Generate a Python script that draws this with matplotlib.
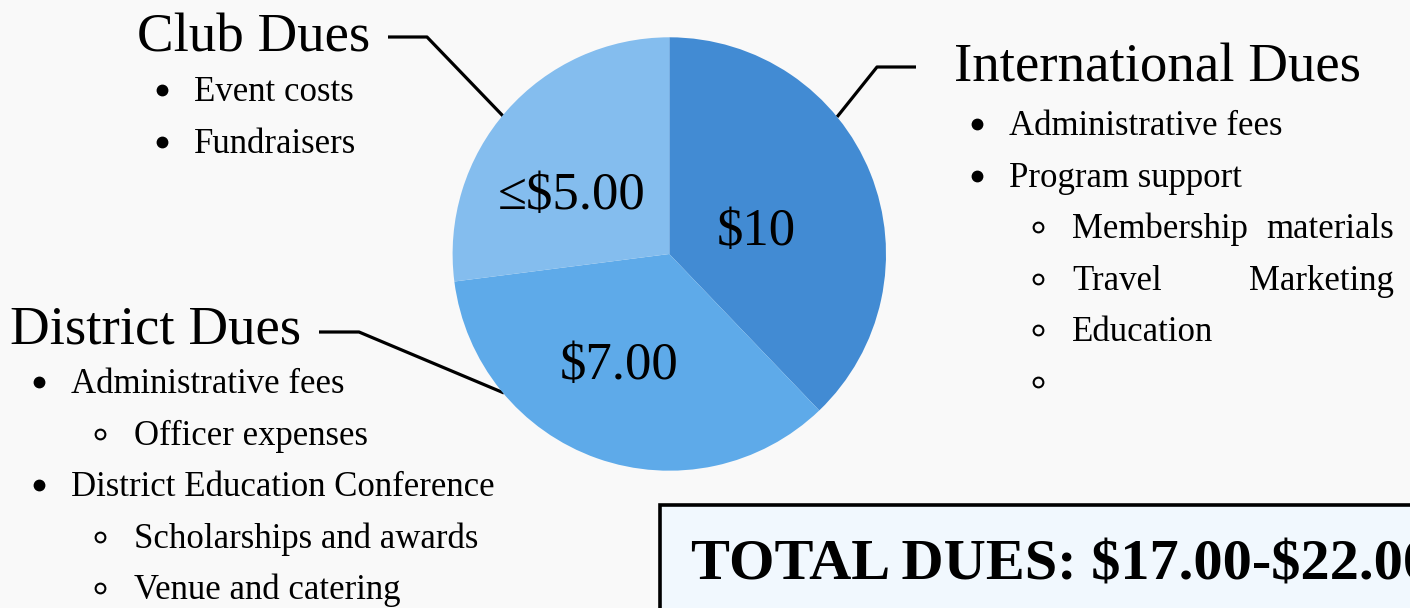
import numpy as np
import matplotlib.pyplot as plt
from matplotlib.patches import Rectangle

# pie slices, sizes
dues = [14, 13, 10]
slice_labels = ['$10', '$7.00', '≤$5.00']
slice_colors = ['#428bd3', '#5eaae9', '#84bdee']

# (indent level, text); a double space marks a justified line
club_items = [(0, 'Event costs'), (0, 'Fundraisers')]
intl_items = [(0, 'Administrative fees'), (0, 'Program support'),
              (1, 'Membership  materials'), (1, 'Travel  Marketing'),
              (1, 'Education'), (1, '')]
district_items = [(0, 'Administrative fees'), (1, 'Officer expenses'),
                  (0, 'District Education Conference'),
                  (1, 'Scholarships and awards'), (1, 'Venue and catering')]
total_text = 'TOTAL DUES: $17.00-$22.00'

W, H = 1410, 608
BG = '#f9f9f9'
SERIF = ['Liberation Serif', 'DejaVu Sans']

fig = plt.figure(figsize=(W / 100, H / 100), dpi=100, facecolor=BG)

# full-figure axes in pixel units for text, leaders and the box
ax = fig.add_axes([0, 0, 1, 1])
ax.set_xlim(0, W)
ax.set_ylim(H, 0)
ax.axis('off')


def draw_list(items, bx, y0, step=51.6, right=None):
    for i, (level, txt) in enumerate(items):
        y = y0 + i * step
        if level == 0:
            ax.plot(bx, y - 11, marker='o', ms=7.5, color='black')
            tx = bx + 32
        else:
            ax.plot(bx + 61, y - 11, marker='o', ms=7, mfc='none', mec='black', mew=1.5)
            tx = bx + 95
        if right is not None and '  ' in txt:
            # justified line: first word left, last word right
            first, last = txt.split()
            ax.text(tx, y, first, fontsize=25, family=SERIF, va='baseline')
            ax.text(right, y, last, fontsize=25, family=SERIF, va='baseline', ha='right')
        else:
            ax.text(tx, y, txt, fontsize=25, family=SERIF, va='baseline')


# titles
ax.text(137, 52, 'Club Dues', fontsize=39.5, family=SERIF, va='baseline')
ax.text(954, 82, 'International Dues', fontsize=39.5, family=SERIF, va='baseline')
ax.text(10, 343, 'District Dues', fontsize=39.5, family=SERIF, va='baseline')

draw_list(club_items, 162, 101)
draw_list(intl_items, 977, 135, right=1394)
draw_list(district_items, 39, 393)

# leader lines
ax.plot([388, 427, 503], [37, 37, 116], color='black', lw=2.3, solid_capstyle='butt')
ax.plot([916, 877, 837], [67, 67, 117], color='black', lw=2.3, solid_capstyle='butt')
ax.plot([319, 359, 504], [332, 332, 393], color='black', lw=2.3, solid_capstyle='butt')

# total box
ax.add_patch(Rectangle((660, 505), 900, 200, facecolor='#f1f8fe', edgecolor='black', lw=2.6))
ax.text(691, 580, total_text, fontsize=42, family=SERIF, fontweight='bold',
        va='baseline', parse_math=False)

# pie
cx, cy, r = 669.3, 254, 216.7
pax = fig.add_axes([(cx - r) / W, (H - cy - r) / H, 2 * r / W, 2 * r / H])
pax.pie(dues, colors=slice_colors, startangle=90, counterclock=False,
        wedgeprops={'linewidth': 0})
pax.set_xlim(-1, 1)
pax.set_ylim(-1, 1)
pax.axis('off')

label_pos = [(0.403, 0.102), (-0.230, -0.516), (-0.452, 0.269)]
for (lx, ly), lab in zip(label_pos, slice_labels):
    pax.text(lx, ly, lab, fontsize=38, family=SERIF, ha='center', va='center')

fig.savefig('out.png', dpi=100, facecolor=BG)
